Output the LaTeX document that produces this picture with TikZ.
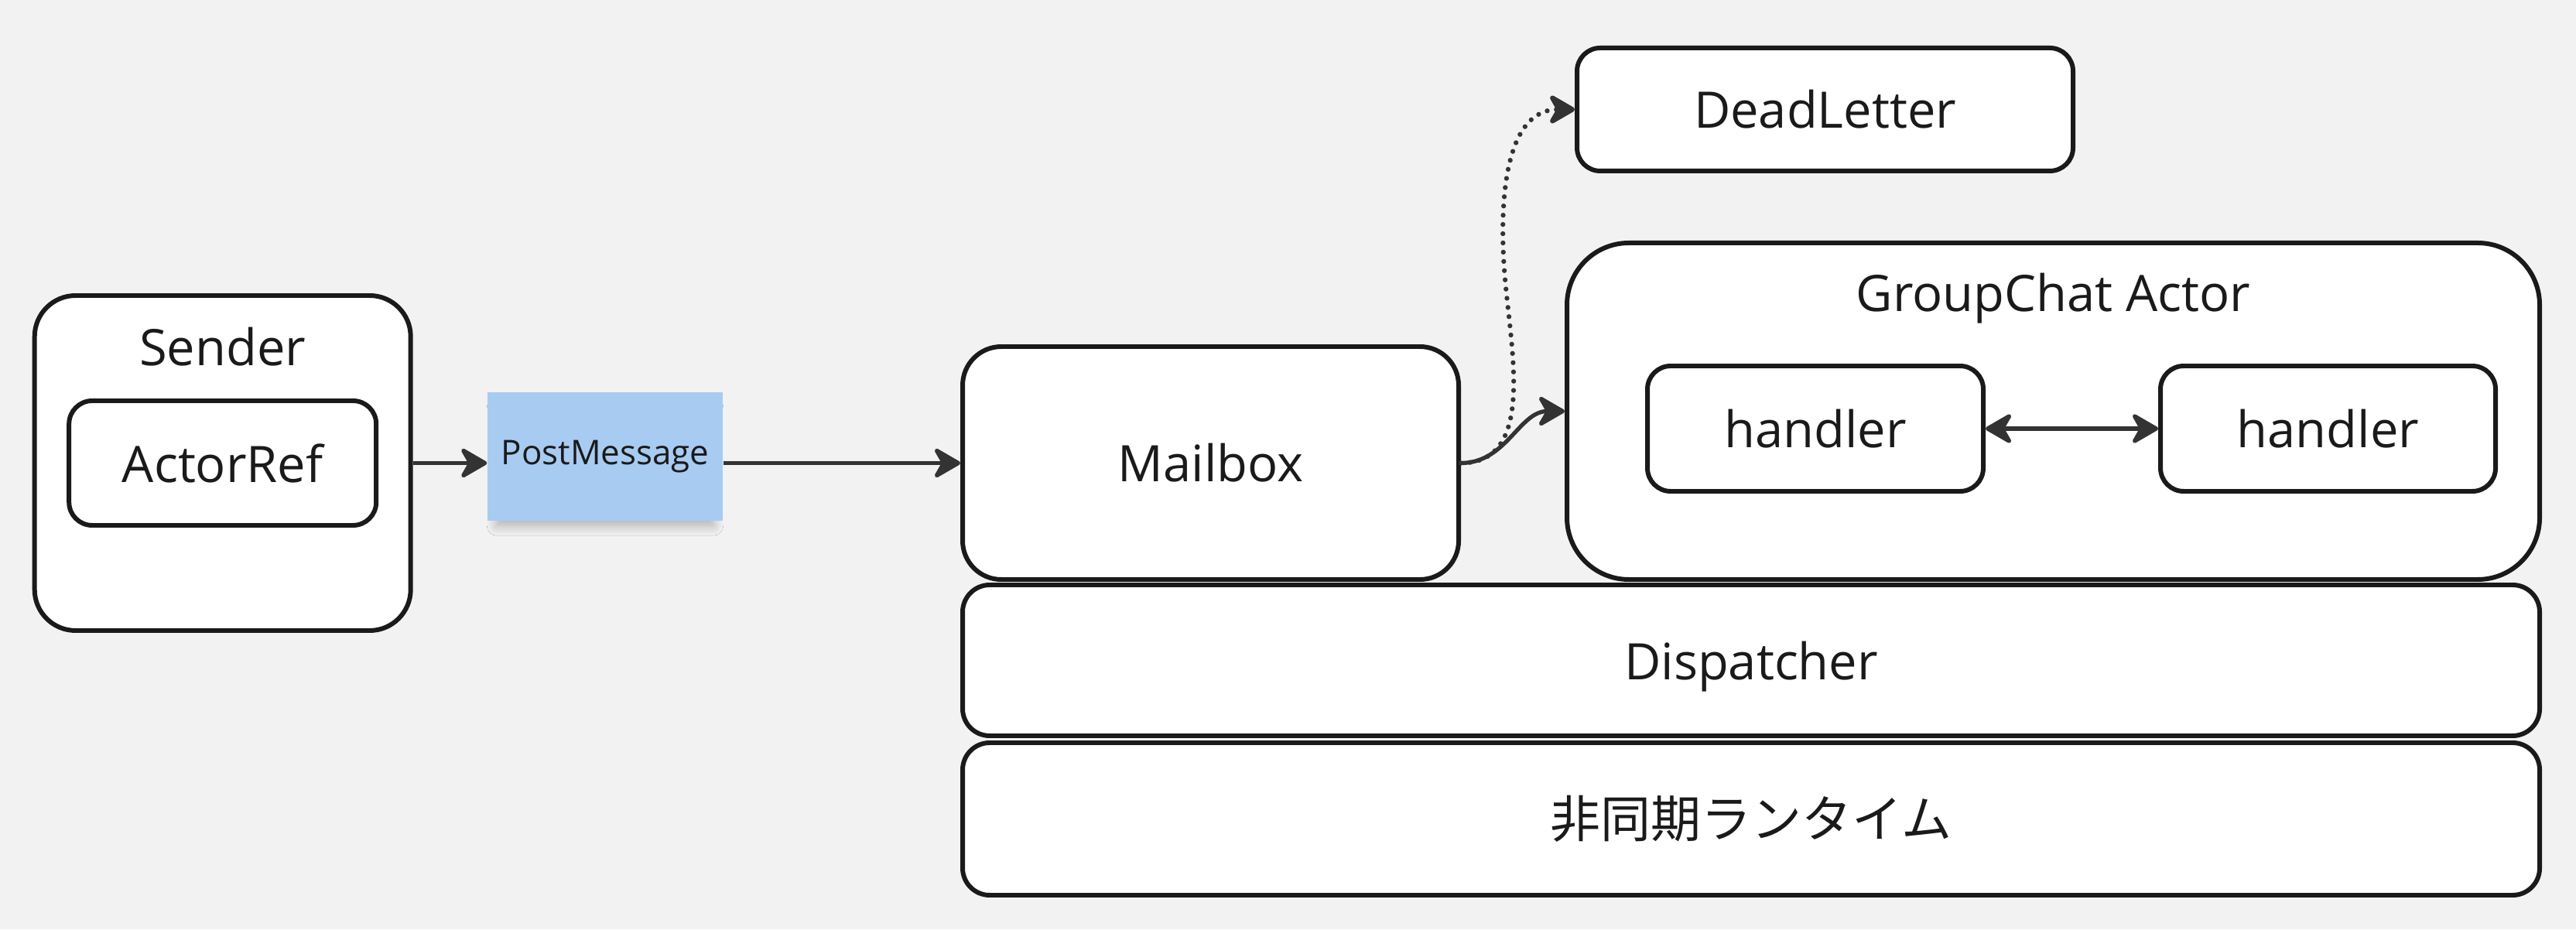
\documentclass[tikz,border=0pt]{standalone}
\usepackage{fontspec}
\setmainfont{Open Sans}
\newfontfamily\jpfont{Noto Sans CJK JP}
\usetikzlibrary{positioning,arrows.meta,shadows.blur}

\definecolor{bgG}{HTML}{F2F2F2}
\definecolor{lineG}{HTML}{1A1A1A}
\definecolor{arrowG}{HTML}{333333}
\definecolor{noteG}{HTML}{A8CBF2}

\tikzset{
  boxG/.style={draw=lineG, line width=1.7pt, fill=white, text=lineG, rounded corners=#1, inner sep=0pt},
  boxG/.default=3mm,
  noteBox/.style={fill=noteG, text=lineG, inner sep=0pt, font=\fontsize{12.5pt}{15pt}\selectfont,
    blur shadow={shadow xshift=0pt, shadow yshift=-4pt, shadow scale=0.92, shadow opacity=28, shadow blur steps=10, shadow blur radius=4pt}},
  conn/.style={draw=arrowG, line width=1.5pt},
  dotConn/.style={conn, line width=1.8pt, dash pattern=on 0pt off 3.4pt, line cap=round},
}

\begin{document}
\begin{tikzpicture}[font=\fontsize{18.5pt}{22pt}\selectfont, >={Stealth[length=4mm,width=4.6mm,inset=1.3mm,round]}]
    \fill[bgG] (0,0) rectangle (33.29,12.01);
    \useasboundingbox (0,0) rectangle (33.29,12.01);
    % sender
    \node[boxG=5.3mm, minimum width=48.6mm, minimum height=43.3mm] (sender) at (2.877,6.025) {};
    \node[text=lineG] (senderT) at (2.877,7.53) {Sender};
    \node[boxG, minimum width=39.7mm, minimum height=16.1mm] (actorref) at (sender.center) {ActorRef};
    % message
    \node[noteBox, minimum width=30.4mm, minimum height=16.6mm] (post) at (7.82,6.11) {PostMessage};
    % mailbox
    \node[boxG=5mm, minimum width=64.1mm, minimum height=30.1mm] (mailbox) at (15.645,6.025) {Mailbox};
    % dead letters
    \node[boxG, minimum width=64.1mm, minimum height=15.9mm] (dead) at (23.585,10.595) {DeadLetter};
    % actor
    \node[boxG=8mm, minimum width=125.7mm, minimum height=43.5mm] (group) at (26.535,6.695) {};
    \node[text=lineG] (groupT) at (26.535,8.15) {GroupChat Actor};
    \node[boxG, minimum width=43.4mm, minimum height=16.2mm] (h1) at (23.46,6.47) {handler};
    \node[boxG, minimum width=43.3mm, minimum height=16.2mm] (h2) at (30.085,6.47) {handler};
    % layers below
    \node[boxG=3.5mm, minimum width=203.8mm, minimum height=19.5mm, text depth=0pt] (disp) at (22.63,3.475) {Dispatcher};
    \node[boxG=3.5mm, minimum width=203.8mm, minimum height=19.7mm] (rt) at (22.63,1.425) {\jpfont 非同期ランタイム};
    % flow
    \draw[conn,->] (sender) -- (sender -| post.west);
    \draw[conn,->] (post.east |- mailbox) -- (mailbox);
    \draw[conn,->] (mailbox.east) to[out=0,in=180] (group.west);
    \coordinate (deadBend) at (19.45,8.4);
    \draw[dotConn,->] (mailbox.east) to[out=0,in=-85] (deadBend) to[out=95,in=180] (dead.west);
    \draw[conn,<->] (h1) -- (h2);
\end{tikzpicture}
\end{document}
